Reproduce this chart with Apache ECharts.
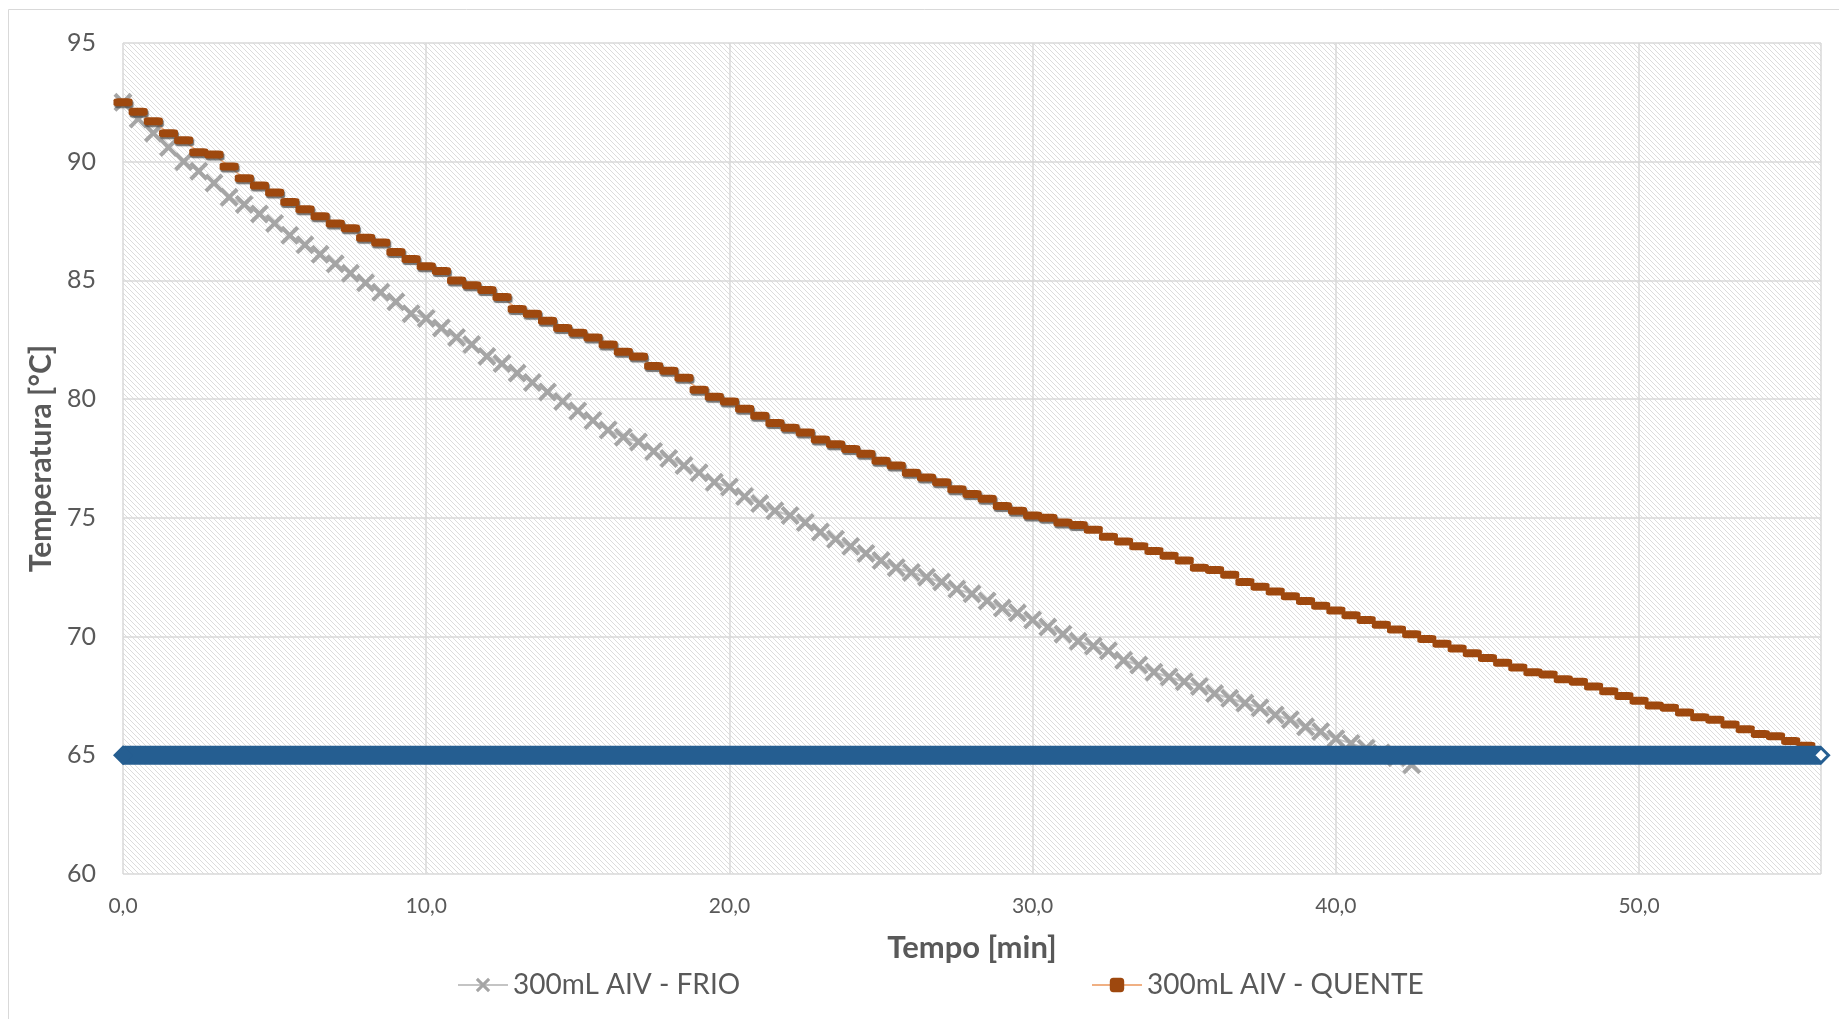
<!DOCTYPE html>
<html>
<head>
<meta charset="utf-8">
<title>300mL AIV</title>
<script src="https://cdn.jsdelivr.net/npm/echarts@6/dist/echarts.min.js"></script>
<style>
  html, body { margin: 0; padding: 0; background: #fff; }
  #grafico { width: 1839px; height: 1019px; }
</style>
</head>
<body>
<div id="grafico"></div>
<script>
// tempo em minutos (leitura a cada 0,5 min)
var tempo = [
  0, 0.5, 1, 1.5, 2, 2.5, 3, 3.5, 4, 4.5, 5, 5.5, 6, 6.5, 7, 7.5, 8, 8.5, 9, 9.5,
  10, 10.5, 11, 11.5, 12, 12.5, 13, 13.5, 14, 14.5, 15, 15.5, 16, 16.5, 17, 17.5, 18, 18.5, 19, 19.5,
  20, 20.5, 21, 21.5, 22, 22.5, 23, 23.5, 24, 24.5, 25, 25.5, 26, 26.5, 27, 27.5, 28, 28.5, 29, 29.5,
  30, 30.5, 31, 31.5, 32, 32.5, 33, 33.5, 34, 34.5, 35, 35.5, 36, 36.5, 37, 37.5, 38, 38.5, 39, 39.5,
  40, 40.5, 41, 41.5, 42, 42.5, 43, 43.5, 44, 44.5, 45, 45.5, 46, 46.5, 47, 47.5, 48, 48.5, 49, 49.5,
  50, 50.5, 51, 51.5, 52, 52.5, 53, 53.5, 54, 54.5, 55, 55.5
]

// 300mL AIV - FRIO (0 a 42,5 min)
var frio = [
  92.5, 91.8, 91.2, 90.6, 90.0, 89.6, 89.1, 88.5, 88.2, 87.8, 87.4, 86.9, 86.5, 86.1, 85.7, 85.3, 84.9, 84.5, 84.1, 83.6,
  83.4, 83.0, 82.6, 82.3, 81.8, 81.5, 81.1, 80.7, 80.3, 79.9, 79.5, 79.1, 78.7, 78.4, 78.2, 77.8, 77.5, 77.2, 76.9, 76.5,
  76.3, 75.9, 75.6, 75.3, 75.1, 74.8, 74.4, 74.1, 73.8, 73.5, 73.2, 72.9, 72.7, 72.5, 72.3, 72.0, 71.8, 71.5, 71.2, 71.0,
  70.7, 70.4, 70.1, 69.8, 69.6, 69.4, 69.0, 68.8, 68.5, 68.3, 68.1, 67.9, 67.6, 67.4, 67.2, 67.0, 66.7, 66.5, 66.2, 66.0,
  65.7, 65.5, 65.3, 65.1, 64.9, 64.6
]

// 300mL AIV - QUENTE (0 a 55,5 min)
var quente = [
  92.5, 92.1, 91.7, 91.2, 90.9, 90.4, 90.3, 89.8, 89.3, 89.0, 88.7, 88.3, 88.0, 87.7, 87.4, 87.2, 86.8, 86.6, 86.2, 85.9,
  85.6, 85.4, 85.0, 84.8, 84.6, 84.3, 83.8, 83.6, 83.3, 83.0, 82.8, 82.6, 82.3, 82.0, 81.8, 81.4, 81.2, 80.9, 80.4, 80.1,
  79.9, 79.6, 79.3, 79.0, 78.8, 78.6, 78.3, 78.1, 77.9, 77.7, 77.4, 77.2, 76.9, 76.7, 76.5, 76.2, 76.0, 75.8, 75.5, 75.3,
  75.1, 75.0, 74.8, 74.7, 74.5, 74.2, 74.0, 73.8, 73.6, 73.4, 73.2, 72.9, 72.8, 72.6, 72.3, 72.1, 71.9, 71.7, 71.5, 71.3,
  71.1, 70.9, 70.7, 70.5, 70.3, 70.1, 69.9, 69.7, 69.5, 69.3, 69.1, 68.9, 68.7, 68.5, 68.4, 68.2, 68.1, 67.9, 67.7, 67.5,
  67.3, 67.1, 67.0, 66.8, 66.6, 66.5, 66.3, 66.1, 65.9, 65.8, 65.6, 65.4
]

// linha de referência 65 °C
var refTempo = [0, 56]
var refValor = [65, 65]

var nomes = ['300mL AIV - FRIO', '300mL AIV - QUENTE']

var cinzaTexto = '#595959'
var fonte = 'Lato, "Noto Sans", sans-serif'

// fundo hachurado da área de plotagem
function hachura () {
  var c = document.createElement('canvas')
  c.width = 10
  c.height = 10
  var g = c.getContext('2d')
  g.fillStyle = '#ffffff'
  g.fillRect(0, 0, 10, 10)
  g.strokeStyle = '#dcdcdc'
  g.lineWidth = 1
  for (var k = -10; k <= 20; k += 5) {
    g.beginPath()
    g.moveTo(k, 0)
    g.lineTo(k + 10, 10)
    g.stroke()
  }
  return c
}

var simboloX = 'path://M0,1.5 L1.5,0 L5,3.5 L8.5,0 L10,1.5 L6.5,5 L10,8.5 L8.5,10 L5,6.5 L1.5,10 L0,8.5 L3.5,5 Z'

var dadosFrio = frio.map(function (v, i) { return [tempo[i], v] })
var dadosQuente = quente.map(function (v, i) {
  // sombra cinza só na primeira parte da curva
  if (tempo[i] < 32) return [tempo[i], v]
  return { value: [tempo[i], v], itemStyle: { shadowColor: 'rgba(0,0,0,0)' } }
})
var dadosRef = refValor.map(function (v, i) {
  if (i === refValor.length - 1) {
    return { value: [refTempo[i], v], symbolSize: 15, itemStyle: { color: '#ffffff', borderColor: '#255E91', borderWidth: 3 } }
  }
  return [refTempo[i], v]
})

var chart = echarts.init(document.getElementById('grafico'))
var option = {
  animation: false,
  backgroundColor: '#ffffff',
  textStyle: { fontFamily: fonte },
  graphic: [{
    type: 'rect',
    shape: { x: 8.5, y: 9.5, width: 1840, height: 1020 },
    style: { fill: 'none', stroke: '#d9d9d9', lineWidth: 1 },
    silent: true
  }],
  grid: {
    left: 123,
    top: 43,
    right: 18,
    bottom: 145,
    show: true,
    borderWidth: 0,
    backgroundColor: { image: hachura(), repeat: 'repeat' }
  },
  legend: [{
    data: [nomes[0]],
    left: 452,
    top: 966,
    itemWidth: 50,
    itemHeight: 18,
    textStyle: { color: cinzaTexto, fontSize: 28, fontFamily: fonte }
  }, {
    data: [nomes[1]],
    left: 1086,
    top: 966,
    itemWidth: 50,
    itemHeight: 18,
    textStyle: { color: cinzaTexto, fontSize: 28, fontFamily: fonte }
  }],
  xAxis: {
    type: 'value',
    min: 0,
    max: 56,
    interval: 10,
    name: 'Tempo [min]',
    nameLocation: 'middle',
    nameGap: 58,
    nameTextStyle: { color: cinzaTexto, fontSize: 31, fontWeight: 'bold', fontFamily: fonte },
    axisLine: { show: false },
    axisTick: { show: false },
    axisLabel: {
      color: cinzaTexto,
      fontSize: 21,
      margin: 22,
      formatter: function (v) { return v % 10 === 0 ? v.toFixed(1).replace('.', ',') : '' }
    },
    splitLine: { show: true, lineStyle: { color: '#d9d9d9', width: 1.5 } }
  },
  yAxis: {
    type: 'value',
    min: 60,
    max: 95,
    interval: 5,
    name: 'Temperatura [°C]',
    nameLocation: 'middle',
    nameGap: 66,
    nameTextStyle: { color: cinzaTexto, fontSize: 30, fontWeight: 'bold', fontFamily: fonte },
    axisLine: { show: false },
    axisTick: { show: false },
    axisLabel: { color: cinzaTexto, fontSize: 25, margin: 27 },
    splitLine: { show: true, lineStyle: { color: '#d9d9d9', width: 1.5 } }
  },
  series: [
    {
      name: nomes[0],
      type: 'line',
      data: dadosFrio,
      symbol: simboloX,
      symbolSize: 19,
      showAllSymbol: true,
      lineStyle: { color: '#c4c4c4', width: 2 },
      itemStyle: { color: '#a5a5a5' },
      z: 2
    },
    {
      name: nomes[1],
      type: 'line',
      data: dadosQuente,
      symbol: 'roundRect',
      symbolSize: [19, 8],
      showAllSymbol: true,
      lineStyle: { color: '#f0b083', width: 1.5 },
      itemStyle: {
        color: '#9E480E',
        shadowColor: 'rgba(70,70,70,0.75)',
        shadowOffsetX: 1,
        shadowOffsetY: 2,
        shadowBlur: 1
      },
      z: 3
    },
    {
      name: 'ref',
      type: 'line',
      data: dadosRef,
      symbol: 'diamond',
      symbolSize: 20,
      showAllSymbol: true,
      lineStyle: { color: '#255E91', width: 19 },
      itemStyle: { color: '#255E91' },
      z: 4
    }
  ]
}
chart.setOption(option)
window.addEventListener('resize', function () { chart.resize() })
</script>
</body>
</html>
